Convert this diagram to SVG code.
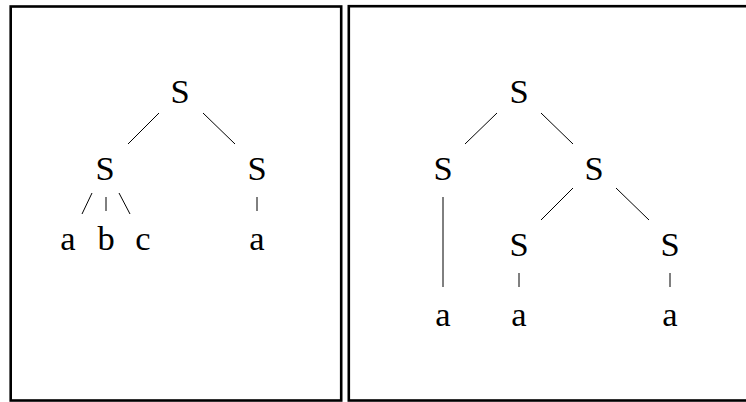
<svg xmlns="http://www.w3.org/2000/svg" width="746" height="402" viewBox="0 0 746 402">
  <style>
    .frame { fill: none; stroke: #000; stroke-width: 2.6; }
    .edge { stroke: #000; stroke-width: 1; fill: none; }
    .lbl { font-family: "Liberation Serif", "DejaVu Serif", serif; font-size: 34.5px; fill: #000; text-anchor: middle; }
  </style>
  <rect x="0" y="0" width="746" height="402" fill="#fff"/>

  <!-- left panel: S -> S S, S -> a b c, S -> a -->
  <g id="panel-left">
    <rect class="frame" x="10.7" y="6.5" width="330.5" height="394"/>
    <g id="connectors-left">
      <line class="edge" x1="159" y1="113" x2="128" y2="144"/>
      <line class="edge" x1="203" y1="113" x2="235" y2="144"/>
      <line class="edge" x1="92" y1="193" x2="82" y2="214"/>
      <line class="edge" x1="106" y1="197" x2="106" y2="211"/>
      <line class="edge" x1="119" y1="193" x2="130" y2="214"/>
      <line class="edge" x1="257" y1="197" x2="257" y2="211"/>
    </g>
    <g id="L-root"><text class="lbl" x="180" y="102.5">S</text></g>
    <g id="L-s1"><text class="lbl" x="105" y="179.5">S</text></g>
    <g id="L-s2"><text class="lbl" x="257" y="179.5">S</text></g>
    <g id="L-a1"><text class="lbl" x="68" y="250">a</text></g>
    <g id="L-b"><text class="lbl" x="106" y="250">b</text></g>
    <g id="L-c"><text class="lbl" x="143" y="250">c</text></g>
    <g id="L-a2"><text class="lbl" x="257" y="250">a</text></g>
  </g>

  <!-- right panel: S -> S S, S -> a, S -> S S, S -> a, S -> a -->
  <g id="panel-right">
    <rect class="frame" x="348.8" y="6.2" width="399" height="394.3"/>
    <g id="connectors-right">
      <line class="edge" x1="497" y1="113" x2="465" y2="144"/>
      <line class="edge" x1="541" y1="113" x2="573" y2="144"/>
      <line class="edge" x1="443" y1="197" x2="443" y2="287"/>
      <line class="edge" x1="573" y1="188" x2="541" y2="220"/>
      <line class="edge" x1="616" y1="188" x2="649" y2="220"/>
      <line class="edge" x1="519" y1="273" x2="519" y2="287"/>
      <line class="edge" x1="670" y1="273" x2="670" y2="287"/>
    </g>
    <g id="R-root"><text class="lbl" x="519" y="102.5">S</text></g>
    <g id="R-s1"><text class="lbl" x="443" y="180">S</text></g>
    <g id="R-s2"><text class="lbl" x="594" y="180">S</text></g>
    <g id="R-s3"><text class="lbl" x="519" y="256">S</text></g>
    <g id="R-s4"><text class="lbl" x="670" y="256">S</text></g>
    <g id="R-a1"><text class="lbl" x="443" y="326">a</text></g>
    <g id="R-a2"><text class="lbl" x="519" y="326">a</text></g>
    <g id="R-a3"><text class="lbl" x="670" y="326">a</text></g>
  </g>
</svg>
